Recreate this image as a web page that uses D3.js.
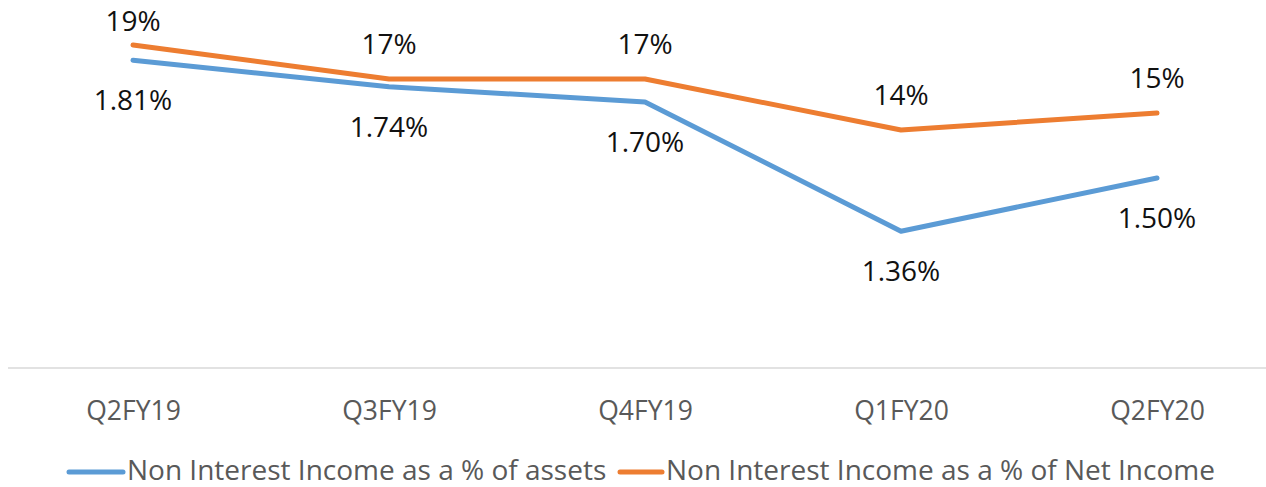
<!DOCTYPE html>
<html>
<head>
<meta charset="utf-8">
<script src="https://cdn.jsdelivr.net/npm/d3@7/dist/d3.min.js"></script>
<style>
  body { margin: 0; background: #fff; }
  svg { display: block; font-family: "Open Sans", Lato, sans-serif; }
</style>
</head>
<body>
<script>
// data
var quarters = ["Q2FY19", "Q3FY19", "Q4FY19", "Q1FY20", "Q2FY20"];
var assetPct = [1.81, 1.74, 1.70, 1.36, 1.50];
var netIncomePct = [19, 17, 17, 14, 15];
var seriesNames = ["Non Interest Income as a % of assets", "Non Interest Income as a % of Net Income"];

var width = 1266, height = 487;
var baseY = 368;

var svg = d3.select("body").append("svg")
    .attr("width", width)
    .attr("height", height);

var x = d3.scalePoint()
    .domain(quarters)
    .range([133, 1157]);

// secondary axis for the assets line, primary for net income
var yAssets = d3.scaleLinear().domain([1.0, 1.9]).range([baseY, 26]);
var yNet = d3.scaleLinear().domain([0, 20]).range([baseY, 28]);

// x axis
svg.append("line")
    .attr("x1", 8).attr("x2", width)
    .attr("y1", baseY).attr("y2", baseY)
    .attr("stroke", "#d9d9d9")
    .attr("stroke-width", 1.5);

var xAxis = d3.axisBottom(x).tickSize(0).tickPadding(0);
var ax = svg.append("g")
    .attr("transform", "translate(0," + baseY + ")")
    .call(xAxis);
ax.select(".domain").remove();
ax.selectAll("text")
    .attr("dy", null)
    .attr("y", 52)
    .attr("fill", "#595959")
    .style("font-family", "'Open Sans', sans-serif")
    .style("font-size", "26.5px");

var line = function(scale) {
    return d3.line()
        .x(function(d, i) { return x(quarters[i]); })
        .y(function(d) { return scale(d); });
};

svg.append("path")
    .datum(assetPct)
    .attr("d", line(yAssets))
    .attr("fill", "none")
    .attr("stroke", "#5b9bd5")
    .attr("stroke-width", 5)
    .attr("stroke-linecap", "round")
    .attr("stroke-linejoin", "round");

svg.append("path")
    .datum(netIncomePct)
    .attr("d", line(yNet))
    .attr("fill", "none")
    .attr("stroke", "#ed7d31")
    .attr("stroke-width", 5)
    .attr("stroke-linecap", "round")
    .attr("stroke-linejoin", "round");

// labels
svg.selectAll(".assetLabel")
    .data(assetPct)
    .enter()
    .append("text")
    .attr("class", "assetLabel")
    .attr("x", function(d, i) { return x(quarters[i]); })
    .attr("y", function(d) { return yAssets(d) + 50; })
    .attr("text-anchor", "middle")
    .style("font-size", "28px")
    .attr("fill", "#111")
    .text(function(d) { return d.toFixed(2) + "%"; });

svg.selectAll(".netLabel")
    .data(netIncomePct)
    .enter()
    .append("text")
    .attr("class", "netLabel")
    .attr("x", function(d, i) { return x(quarters[i]); })
    .attr("y", function(d) { return Math.max(31, yNet(d) - 25); })
    .attr("text-anchor", "middle")
    .style("font-size", "28px")
    .attr("fill", "#111")
    .text(function(d) { return d + "%"; });

// legend
var legendItems = [
    { name: seriesNames[0], color: "#5b9bd5", x0: 69, len: 54 },
    { name: seriesNames[1], color: "#ed7d31", x0: 620, len: 42 }
];
var lg = svg.selectAll(".legend")
    .data(legendItems)
    .enter()
    .append("g")
    .attr("class", "legend")
    .attr("transform", function(d) { return "translate(" + d.x0 + ",472)"; });
lg.append("line")
    .attr("x1", 0).attr("x2", function(d) { return d.len; })
    .attr("stroke", function(d) { return d.color; })
    .attr("stroke-width", 5)
    .attr("stroke-linecap", "round");
lg.append("text")
    .attr("x", function(d) { return d.len + 4; })
    .attr("y", 8)
    .attr("fill", "#595959")
    .style("font-size", "28px")
    .text(function(d) { return d.name; });
</script>
</body>
</html>
